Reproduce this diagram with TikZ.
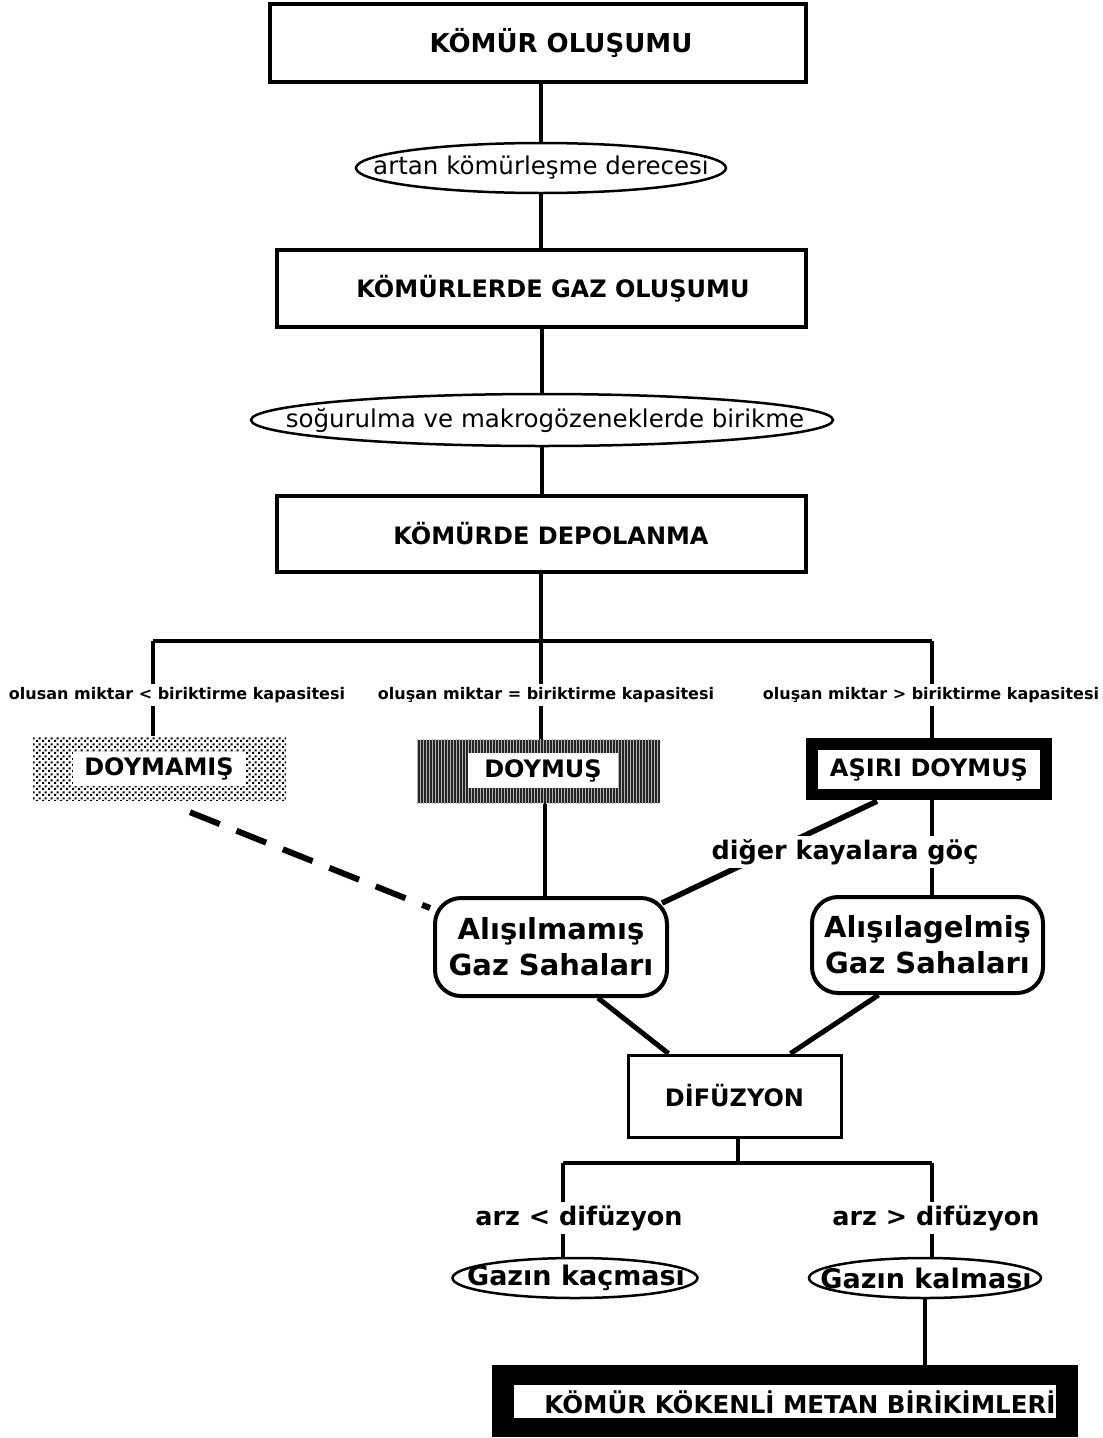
\documentclass[tikz,border=0pt]{standalone}
\usepackage{fontspec}
\setmainfont{DejaVu Sans}
\usetikzlibrary{patterns,backgrounds,shapes.geometric,calc}
\pgfdeclarepatternformonly{chkdots}{\pgfpointorigin}{\pgfqpoint{6pt}{6pt}}{\pgfqpoint{6pt}{6pt}}{%
  \pgfpathrectangle{\pgfqpoint{0pt}{0pt}}{\pgfqpoint{2.4pt}{2.4pt}}%
  \pgfpathrectangle{\pgfqpoint{3pt}{3pt}}{\pgfqpoint{2.4pt}{2.4pt}}%
  \pgfusepath{fill}}
\begin{document}
\begin{tikzpicture}[x=1pt,y=-1pt,
  conn/.style={line width=4pt},
  tbox/.style={draw, line width=3.5pt, inner sep=0pt},
  ttext/.style={inner sep=0pt, font=\bfseries\fontsize{24}{28}\selectfont},
  ell/.style={draw, ellipse, line width=2.5pt, inner sep=0pt},
  etext/.style={inner sep=0pt, font=\fontsize{24.5}{30}\selectfont},
  btext/.style={inner sep=0pt, font=\bfseries\fontsize{27}{32}\selectfont},
  rbox/.style={draw, rounded corners=26pt, line width=4pt, align=center, inner sep=0pt, font=\bfseries\fontsize{29}{36}\selectfont},
  lab/.style={fill=white, inner sep=3pt, font=\bfseries\fontsize{16}{19}\selectfont},
  blab/.style={fill=white, inner sep=3pt, font=\bfseries\fontsize{25.5}{30}\selectfont},
  white inner/.style={fill=white, inner sep=0pt, font=\bfseries\fontsize{24}{28}\selectfont}
]
\useasboundingbox (0,0) rectangle (1103,1438);

% main column
\node[tbox, minimum width=536, minimum height=78] (b1) at (538,43) {};
\node[ttext, font=\bfseries\fontsize{26}{30}\selectfont] (b1t) at (561,43) {KÖMÜR OLUŞUMU};
\node[ell, minimum width=370, minimum height=50] (e1) at (541,168) {};
\node[etext] (e1t) at (541,168) {artan kömürleşme derecesi};
\node[tbox, minimum width=529, minimum height=77] (b2) at (541.5,288.5) {};
\node[ttext] (b2t) at (553,289) {KÖMÜRLERDE GAZ OLUŞUMU};
\node[ell, minimum width=582, minimum height=52] (e2) at (542,420) {};
\node[etext] (e2t) at (545,420) {soğurulma ve makrogözeneklerde birikme};
\node[tbox, minimum width=529, minimum height=76] (b3) at (541.5,534) {};
\node[ttext] (b3t) at (551,534) {KÖMÜRDE DEPOLANMA};

% branch coordinates
\coordinate (bm) at (541,641);
\coordinate (bl) at (153,641);
\coordinate (br) at (932,641);

% branch labels
\node[lab] (l1) at (177,695) {olusan miktar < biriktirme kapasitesi};
\node[lab] (l2) at (546,695) {oluşan miktar = biriktirme kapasitesi};
\node[lab] (l3) at (931,695) {oluşan miktar > biriktirme kapasitesi};

% DOYMAMIS
\node[draw=none, pattern=chkdots, minimum width=253, minimum height=64, inner sep=0pt] (dm) at (159.5,768) {};
\node[white inner, minimum width=172, minimum height=34] (dmt) at (159,769) {DOYMAMIŞ};

% DOYMUS
\node[fill=black!85, minimum width=243, minimum height=63, inner sep=0pt] (dy) at (538.5,771.5) {};
\fill[pattern=vertical lines, pattern color=white!70!black] (dy.south west) rectangle (dy.north east);
\node[white inner, minimum width=150, minimum height=35] (dyt) at (543,770.5) {DOYMUŞ};

% ASIRI DOYMUS
\node[fill=black, minimum width=246, minimum height=62, inner sep=0pt] (as) at (929,769) {};
\node[white inner, minimum width=222, minimum height=39] (ast) at (929,769.5) {AŞIRI DOYMUŞ};

% gas fields
\node[rbox, minimum width=232, minimum height=98] (alis) at (551,947) {Alışılmamış\\Gaz Sahaları};
\node[rbox, minimum width=231, minimum height=96] (alag) at (927.5,945) {Alışılagelmiş\\Gaz Sahaları};
\node[blab] (goc) at (845,852) {diğer kayalara göç};

% diffusion
\node[draw, line width=3pt, minimum width=213, minimum height=82, inner sep=0pt, font=\bfseries\fontsize{24}{28}\selectfont] (dif) at (734.5,1096) {DİFÜZYON};
\coordinate (cm) at (738,1163);
\coordinate (cl) at (563,1163);
\coordinate (cr) at (932,1163);
\node[blab] (a1) at (579,1218) {arz < difüzyon};
\node[blab] (a2) at (936,1218) {arz > difüzyon};
\node[ell, fill=white, minimum width=245, minimum height=40] (kac) at (575,1278) {};
\node[btext] (kact) at (576,1278) {Gazın kaçması};
\node[ell, fill=white, minimum width=232, minimum height=40] (kal) at (925,1278) {};
\node[btext] (kalt) at (926,1278) {Gazın kalması};

% final
\node[fill=black, minimum width=586, minimum height=72, inner sep=0pt] (fin) at (785,1401) {};
\node[fill=white, minimum width=542, minimum height=33, inner sep=0pt] (finw) at (785,1401.5) {};
\node[inner sep=0pt, font=\bfseries\fontsize{24.5}{28}\selectfont] (fint) at (800,1402) {KÖMÜR KÖKENLİ METAN BİRİKİMLERİ};

% helper coordinates
\coordinate (d1) at ([xshift=6.5pt]dy.south);
\coordinate (asA) at ([xshift=-52pt,yshift=-1pt]as.south);
\coordinate (alNE) at ([xshift=-7pt,yshift=-7pt]alis.north east);
\coordinate (dmS) at ([xshift=30.5pt,yshift=-12pt]dm.south);
\coordinate (alNW) at ([xshift=-3pt,yshift=-12pt]alis.north west);
\coordinate (alS) at ([xshift=47pt]alis.south);
\coordinate (difL) at ([xshift=-66pt]dif.north);
\coordinate (agS) at ([xshift=-49pt]alag.south);
\coordinate (difR) at ([xshift=56pt]dif.north);

\begin{scope}[on background layer]
  \draw[conn] (e1.north |- b1.south) -- (e1.north);
  \draw[conn] (e1.south) -- (e1.south |- b2.north);
  \draw[conn] (e2.north |- b2.south) -- (e2.north);
  \draw[conn] (e2.south) -- (e2.south |- b3.north);
  \draw[conn] (bm |- b3.south) -- (bm);
  \draw[conn] (bl) -- (br);
  \draw[conn] (bl) -- (bl |- dm.north);
  \draw[conn] (bm) -- (bm |- dy.north);
  \draw[conn] (br) -- (br |- as.north);
  \draw[conn] (d1) -- (d1 |- alis.north);
  \draw[line width=5.5pt] (asA) -- (alNE);
  \draw[conn] (br |- as.south) -- (br |- alag.north);
  \draw[line width=6pt, dash pattern=on 32pt off 18pt] (dmS) -- (alNW);
  \draw[line width=5pt] (alS) -- (difL);
  \draw[line width=5pt] (agS) -- (difR);
  \draw[conn] (cm |- dif.south) -- (cm);
  \draw[conn] (cl) -- (cr);
  \draw[conn] (cl) -- (cl |- kac.north);
  \draw[conn] (cr) -- (cr |- kal.north);
  \draw[conn] (kal.south) -- (kal.south |- fin.north);
\end{scope}
\end{tikzpicture}
\end{document}
